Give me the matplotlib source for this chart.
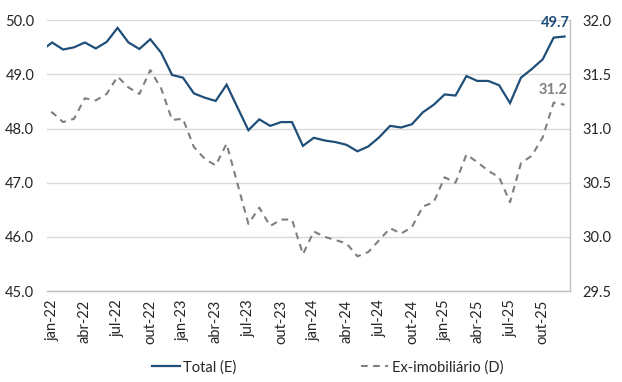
import matplotlib
matplotlib.use("Agg")
import matplotlib.pyplot as plt
from matplotlib.lines import Line2D

plt.rcParams['font.family'] = ['Lato', 'DejaVu Sans']

months = ['jan', 'fev', 'mar', 'abr', 'mai', 'jun', 'jul', 'ago', 'set', 'out', 'nov', 'dez']
years = ['22', '23', '24', '25']
periods = [f"{m}-{y}" for y in years for m in months]

# value for dez-21 (line enters from the left edge of the axis)
total_prev = 49.44
exim_prev = 31.08

total = [49.59, 49.46, 49.50, 49.59, 49.48, 49.60, 49.86, 49.59, 49.47, 49.65, 49.40, 48.99,
         48.94, 48.65, 48.57, 48.51, 48.81, 48.39, 47.97, 48.17, 48.05, 48.12, 48.12, 47.68,
         47.83, 47.78, 47.75, 47.70, 47.58, 47.67, 47.84, 48.05, 48.02, 48.08, 48.30, 48.44,
         48.63, 48.61, 48.97, 48.88, 48.88, 48.80, 48.47, 48.94, 49.10, 49.28, 49.68, 49.70]

exim = [31.15, 31.06, 31.09, 31.28, 31.26, 31.32, 31.48, 31.38, 31.32, 31.54, 31.37, 31.08,
        31.09, 30.83, 30.72, 30.66, 30.86, 30.49, 30.12, 30.27, 30.10, 30.16, 30.16, 29.84,
        30.05, 30.00, 29.97, 29.94, 29.82, 29.86, 29.97, 30.08, 30.03, 30.09, 30.28, 30.32,
        30.55, 30.50, 30.76, 30.69, 30.61, 30.55, 30.32, 30.68, 30.75, 30.92, 31.24, 31.22]

left_ticks = [45.0, 46.0, 47.0, 48.0, 49.0, 50.0]
right_ticks = [29.5, 30.0, 30.5, 31.0, 31.5, 32.0]

navy = '#1F4E79'
gray = '#7F7F7F'
gridc = '#D9D9D9'

fig = plt.figure(figsize=(6.22, 3.82), dpi=100)
ax = fig.add_axes([0.0751, 0.2382, 0.9164 - 0.0751, 0.9469 - 0.2382])
ax2 = ax.twinx()

x = list(range(-1, len(periods)))
ax.plot(x, [total_prev] + total, color=navy, lw=1.6, zorder=3, solid_joinstyle='miter')
ax2.plot(x, [exim_prev] + exim, color=gray, lw=1.5, dashes=(3.2, 2.6), zorder=3)

ax.set_xlim(-0.5, len(periods) - 0.5)
ax.set_ylim(45.0, 50.0)
ax2.set_ylim(29.5, 32.0)

ax.set_yticks(left_ticks)
ax.set_yticklabels([f"{v:.1f}" for v in left_ticks])
ax2.set_yticks(right_ticks)
ax2.set_yticklabels([f"{v:.1f}" for v in right_ticks])

tick_idx = list(range(0, len(periods), 3))
ax.set_xticks(tick_idx)
ax.set_xticklabels([periods[i] for i in tick_idx], rotation=90)

ax.grid(axis='y', color=gridc, lw=1.0, zorder=0)
ax.set_axisbelow(True)

for a in (ax, ax2):
    for s in ('top', 'left', 'right'):
        a.spines[s].set_visible(False)
    a.spines['bottom'].set_visible(False)
ax.spines['bottom'].set_visible(True)
ax.spines['bottom'].set_color('#BFBFBF')
ax.spines['bottom'].set_linewidth(1.0)
ax2.spines['right'].set_visible(True)
ax2.spines['right'].set_color('#BFBFBF')
ax2.spines['right'].set_linewidth(1.0)

ax.tick_params(axis='y', length=0, pad=9, labelsize=10.5, colors='#262626')
ax2.tick_params(axis='y', length=0, pad=9, labelsize=10.5, colors='#262626')
ax.tick_params(axis='x', length=0, pad=6, labelsize=10.5, colors='#262626')

n = len(periods) - 1
ax.annotate(f"{total[-1]:.1f}", xy=(n, total[-1]), xytext=(-9, 7), textcoords='offset pixels',
            ha='center', va='bottom', color=navy, fontweight='bold', fontsize=10.5)
ax2.annotate(f"{exim[-1]:.1f}", xy=(n, exim[-1]), xytext=(-12, 8), textcoords='offset pixels',
             ha='center', va='bottom', color=gray, fontweight='bold', fontsize=10.5)

handles = [Line2D([], [], color=navy, lw=1.6),
           Line2D([], [], color=gray, lw=1.5, dashes=(3.2, 2.6))]
fig.legend(handles, ['Total (E)', 'Ex-imobiliário (D)'], loc='center',
           bbox_to_anchor=(0.527, 0.039), ncol=2, frameon=False, fontsize=10.5,
           handlelength=1.9, handletextpad=0.25, columnspacing=8.5, labelcolor='#262626')

fig.savefig('out.png', dpi=100)
